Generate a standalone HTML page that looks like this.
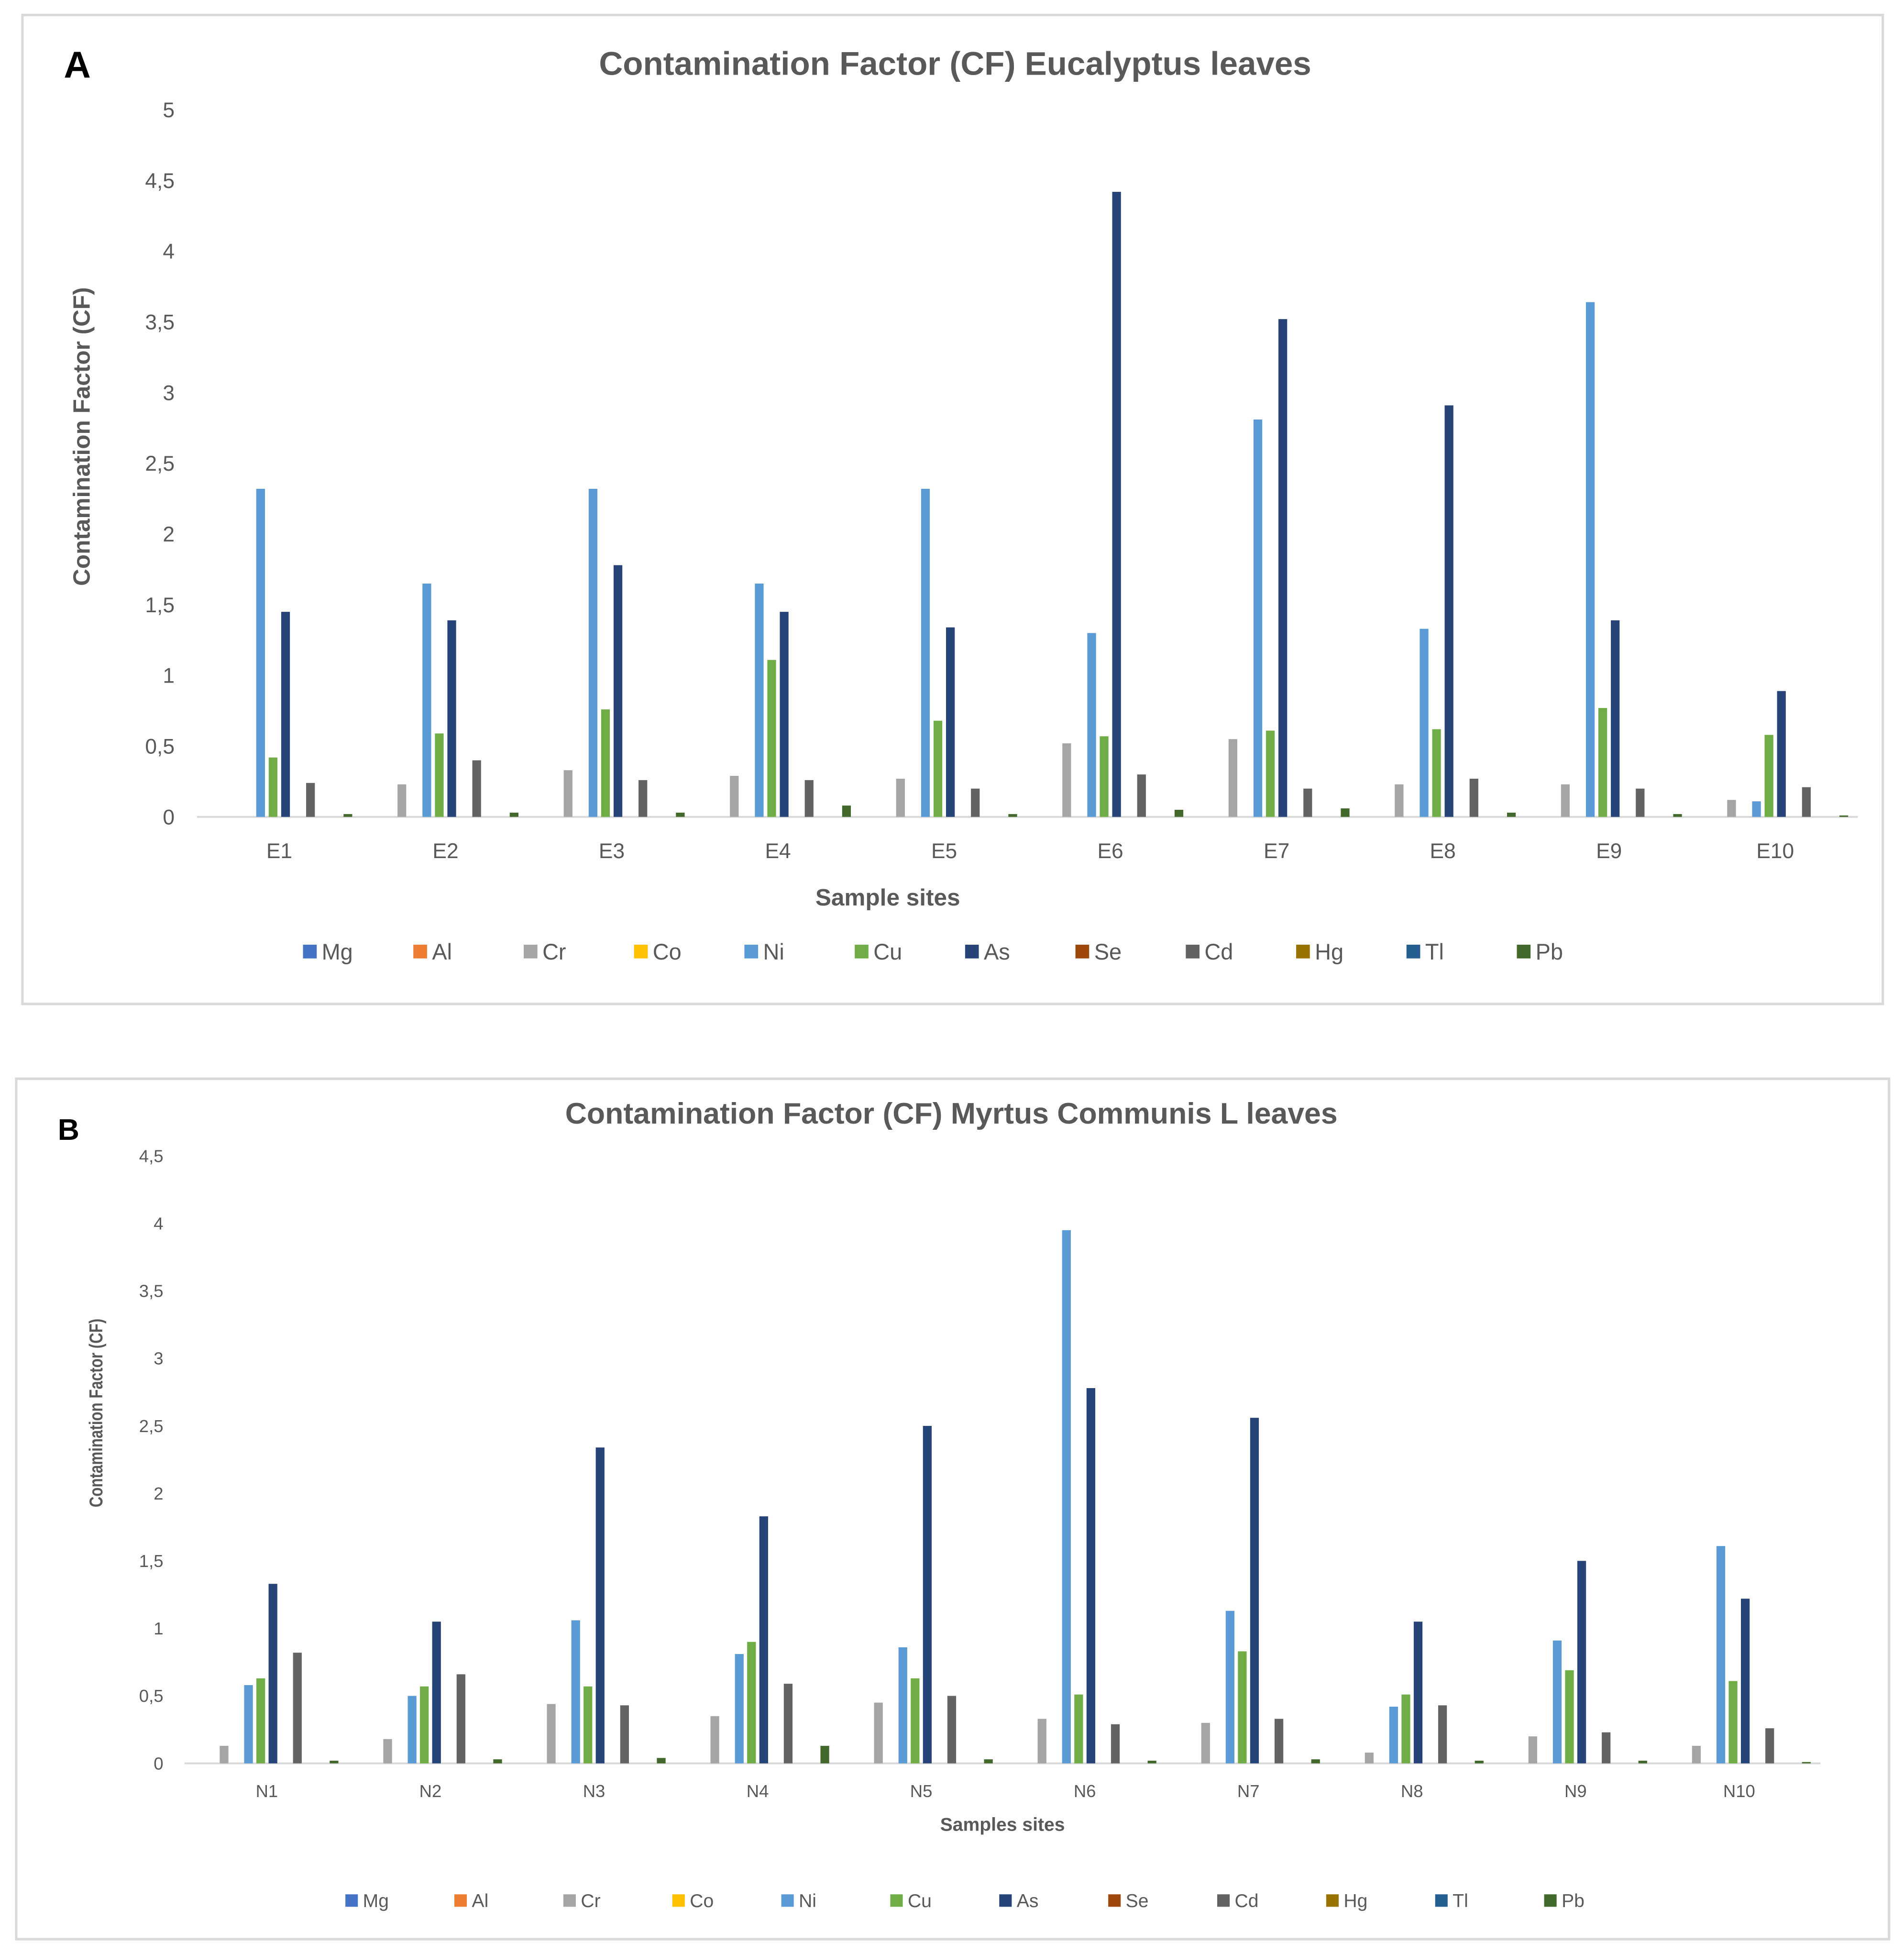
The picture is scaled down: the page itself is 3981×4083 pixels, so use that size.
<!DOCTYPE html>
<html><head><meta charset="utf-8"><style>
html,body{margin:0;padding:0;background:#fff}
svg{display:block}
text{font-family:"Liberation Sans",sans-serif}
</style></head><body>
<svg id="root" width="3981" height="4083" viewBox="0 0 1527 1566" xmlns="http://www.w3.org/2000/svg">
<rect x="0" y="0" width="1527" height="1566" fill="#fff"/>
<g id="chartA">
<rect x="18" y="12" width="1492" height="793" fill="#fff" stroke="#d9d9d9" stroke-width="2"/>
<text x="62" y="62" font-size="30" font-weight="bold" text-anchor="middle" fill="#000">A</text>
<text x="766" y="60" font-size="26.5" font-weight="bold" text-anchor="middle" fill="#595959">Contamination Factor (CF) Eucalyptus leaves</text>
<text transform="translate(72,350) rotate(-90)" font-size="19" font-weight="bold" text-anchor="middle" fill="#595959">Contamination Factor (CF)</text>
<text x="712" y="726" font-size="19" font-weight="bold" text-anchor="middle" fill="#595959">Sample sites</text>
</g>
<g id="chartB">
<rect x="13" y="865" width="1502" height="690" fill="#fff" stroke="#d9d9d9" stroke-width="2"/>
<text x="55" y="914" font-size="24" font-weight="bold" text-anchor="middle" fill="#000">B</text>
<text x="763" y="901" font-size="24" font-weight="bold" text-anchor="middle" fill="#595959">Contamination Factor (CF) Myrtus Communis L leaves</text>
<text transform="translate(82,1133) rotate(-90) scale(0.8,1)" font-size="15" font-weight="bold" text-anchor="middle" fill="#595959">Contamination Factor (CF)</text>
<text x="804" y="1468" font-size="15" font-weight="bold" text-anchor="middle" fill="#595959">Samples sites</text>
</g>
</svg>
<script>
const seriesNames=["Mg","Al","Cr","Co","Ni","Cu","As","Se","Cd","Hg","Tl","Pb"];
const seriesColors=["#4472C4","#ED7D31","#A5A5A5","#FFC000","#5B9BD5","#70AD47","#264478","#9E480E","#636363","#997300","#255E91","#43682B"];
const catsA=["E1","E2","E3","E4","E5","E6","E7","E8","E9","E10"];
const ticksA=["0","0,5","1","1,5","2","2,5","3","3,5","4","4,5","5"];
const crA=[0,0.23,0.33,0.29,0.27,0.52,0.55,0.23,0.23,0.12];
const niA=[2.32,1.65,2.32,1.65,2.32,1.30,2.81,1.33,3.64,0.11];
const cuA=[0.42,0.59,0.76,1.11,0.68,0.57,0.61,0.62,0.77,0.58];
const asA=[1.45,1.39,1.78,1.45,1.34,4.42,3.52,2.91,1.39,0.89];
const cdA=[0.24,0.40,0.26,0.26,0.20,0.30,0.20,0.27,0.20,0.21];
const pbA=[0.02,0.03,0.03,0.08,0.02,0.05,0.06,0.03,0.02,0.01];
const catsB=["N1","N2","N3","N4","N5","N6","N7","N8","N9","N10"];
const ticksB=["0","0,5","1","1,5","2","2,5","3","3,5","4","4,5"];
const crB=[0.13,0.18,0.44,0.35,0.45,0.33,0.30,0.08,0.20,0.13];
const niB=[0.58,0.50,1.06,0.81,0.86,3.95,1.13,0.42,0.91,1.61];
const cuB=[0.63,0.57,0.57,0.90,0.63,0.51,0.83,0.51,0.69,0.61];
const asB=[1.33,1.05,2.34,1.83,2.50,2.78,2.56,1.05,1.50,1.22];
const cdB=[0.82,0.66,0.43,0.59,0.50,0.29,0.33,0.43,0.23,0.26];
const pbB=[0.02,0.03,0.04,0.13,0.03,0.02,0.03,0.02,0.02,0.01];
const NS="http://www.w3.org/2000/svg";
function mk(tag,attrs,parent){const e=document.createElementNS(NS,tag);for(const k in attrs)e.setAttribute(k,attrs[k]);parent.appendChild(e);return e;}
function draw(g,cfg){
  const y=v=>cfg.y0-v*cfg.pxPerUnit;
  const x=i=>cfg.x0+i*cfg.step;
  cfg.ticks.forEach((t,i)=>{
    const tx=mk('text',{x:cfg.tickX,y:y(i*0.5)+cfg.tickFs*0.35,'font-size':cfg.tickFs,'text-anchor':'end',fill:'#595959'},g);
    tx.textContent=t;
    
    
  });
  const ax=mk('line',{x1:cfg.axL,x2:cfg.axR,y1:cfg.y0,y2:cfg.y0,stroke:'#d9d9d9','stroke-width':1.5},g);
  
  
  const vals={2:cfg.cr,4:cfg.ni,5:cfg.cu,6:cfg.as,8:cfg.cd,11:cfg.pb};
  cfg.cats.forEach((c,ci)=>{
    const cx=x(ci);
    for(const s in vals){
      const v=vals[s][ci];
      const bx=cx+(s-5.5)*cfg.bstep-cfg.bw/2;
      const r=mk('rect',{x:bx,y:y(v),width:cfg.bw,height:Math.max(0,v*cfg.pxPerUnit),fill:seriesColors[s]},g);
      
      
    }
    const t=mk('text',{x:cx,y:cfg.y0+cfg.catDy,'font-size':cfg.catFs,'text-anchor':'middle',fill:'#595959'},g);
    t.textContent=c;
    
    
  });
  seriesNames.forEach((n,i)=>{
    const lx=cfg.legX0+i*cfg.legStep;
    const sq=mk('rect',{x:lx,y:cfg.legY-cfg.legSq/2,width:cfg.legSq,height:cfg.legSq,fill:seriesColors[i]},g);
    
    
    const t=mk('text',{x:lx+cfg.legSq+4,y:cfg.legY+cfg.legFs*0.35,'font-size':cfg.legFs,fill:'#595959'},g);
    t.textContent=n;
    
    
  });
}
draw(document.getElementById('chartA'),{y0:655,pxPerUnit:113.4,x0:224,step:133.3,bstep:10,bw:7,axL:158,axR:1490,tickX:140,tickFs:17,catDy:33,catFs:17,cats:catsA,ticks:ticksA,cr:crA,ni:niA,cu:cuA,as:asA,cd:cdA,pb:pbA,legX0:243,legStep:88.5,legY:763,legSq:11,legFs:18});
draw(document.getElementById('chartB'),{y0:1414,pxPerUnit:108.25,x0:214,step:131.2,bstep:9.8,bw:7,axL:148,axR:1460,tickX:131,tickFs:14,catDy:27,catFs:14,cats:catsB,ticks:ticksB,cr:crB,ni:niB,cu:cuB,as:asB,cd:cdB,pb:pbB,legX0:277,legStep:87.4,legY:1524,legSq:10,legFs:15});
</script>
</body></html>
